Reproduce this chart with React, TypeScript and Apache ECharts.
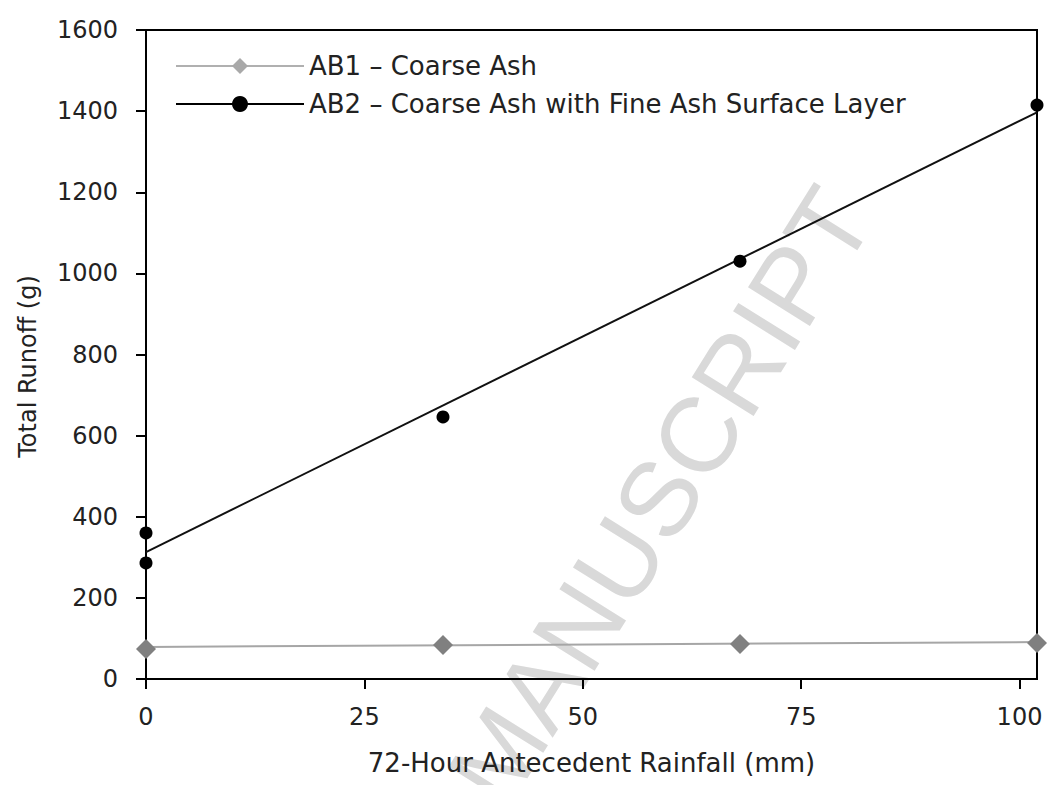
import React, { useEffect, useRef } from "react";
import * as echarts from "echarts";

const xTickLabels = [0, 25, 50, 75, 100];
const yTickLabels = [0, 200, 400, 600, 800, 1000, 1200, 1400, 1600];

const ab1Name = "AB1 \u2013 Coarse Ash";
const ab2Name = "AB2 \u2013 Coarse Ash with Fine Ash Surface Layer";

const ab1X = [0, 34, 68, 102];
const ab1Y = [74, 84, 86, 89];
const ab1TrendX = [0, 102];
const ab1TrendY = [79, 91];

const ab2X = [0, 0, 34, 68, 102];
const ab2Y = [360, 286, 646, 1030, 1415];
const ab2TrendX = [0, 102];
const ab2TrendY = [313, 1397];

const FONT = "DejaVu Sans";

export default function App() {
  const ref = useRef<HTMLDivElement>(null);
  useEffect(() => {
    document.body.style.margin = "0";
    const chart = echarts.init(ref.current!, null, { renderer: "svg" });
    const pairs = (xs: number[], ys: number[]) => xs.map((x, i) => [x, ys[i]]);
    chart.setOption({
      animation: false,
      backgroundColor: "#ffffff",
      textStyle: { fontFamily: FONT },
      grid: {
        left: 146,
        right: 11,
        top: 30,
        bottom: 106,
        show: true,
        borderColor: "#000",
        borderWidth: 2,
        backgroundColor: "transparent",
      },
      graphic: [
        {
          type: "text",
          x: 660,
          y: 496,
          rotation: (58 * Math.PI) / 180,
          z: -10,
          silent: true,
          style: {
            text: "MANUSCRIPT",
            fontFamily: "Liberation Sans",
            fontSize: 106,
            fill: "#d9d9d9",
            align: "center",
            verticalAlign: "middle",
          },
        },
      ],
      legend: {
        left: 170,
        top: 48,
        orient: "vertical",
        itemWidth: 128,
        itemHeight: 20,
        itemGap: 12,
        textStyle: { fontFamily: FONT, fontSize: 26, color: "#222", lineHeight: 26 },
        data: [
          { name: ab1Name, itemStyle: { color: "#a9a9a9" }, lineStyle: { opacity: 1, color: "#b0b0b0", width: 2 } },
          { name: ab2Name, lineStyle: { opacity: 1, color: "#000", width: 2 } },
        ],
      },
      xAxis: {
        type: "value",
        min: 0,
        max: 102,
        interval: 25,
        name: "72-Hour Antecedent Rainfall (mm)",
        nameLocation: "middle",
        nameGap: 71,
        nameTextStyle: { fontFamily: FONT, fontSize: 26, color: "#222" },
        axisLine: { onZero: false, lineStyle: { color: "#000", width: 2 } },
        axisTick: { inside: false, length: 10, lineStyle: { color: "#000", width: 2 } },
        axisLabel: {
          fontFamily: FONT,
          fontSize: 24,
          color: "#222",
          margin: 26,
          showMaxLabel: false,
          formatter: (v: number) => (xTickLabels.includes(v) ? String(v) : ""),
        },
        splitLine: { show: false },
      },
      yAxis: {
        type: "value",
        min: 0,
        max: 1600,
        interval: 200,
        name: "Total Runoff (g)",
        nameLocation: "middle",
        nameGap: 106,
        nameTextStyle: { fontFamily: FONT, fontSize: 24, color: "#222", padding: [0, 24, 0, 0] },
        axisLine: { onZero: false, lineStyle: { color: "#000", width: 2 } },
        axisTick: { inside: false, length: 10, lineStyle: { color: "#000", width: 2 } },
        axisLabel: {
          fontFamily: FONT,
          fontSize: 24,
          color: "#222",
          margin: 28,
          formatter: (v: number) => (yTickLabels.includes(v) ? String(v) : ""),
        },
        splitLine: { show: false },
      },
      series: [
        {
          name: "AB1 trend",
          type: "line",
          data: pairs(ab1TrendX, ab1TrendY),
          symbol: "none",
          silent: true,
          z: 2,
          lineStyle: { color: "#a6a6a6", width: 2 },
        },
        {
          name: "AB2 trend",
          type: "line",
          data: pairs(ab2TrendX, ab2TrendY),
          symbol: "none",
          silent: true,
          z: 2,
          lineStyle: { color: "#111", width: 2 },
        },
        {
          name: ab1Name,
          type: "line",
          data: pairs(ab1X, ab1Y),
          symbol: "diamond",
          symbolSize: [20, 20],
          z: 3,
          itemStyle: { color: "#808080" },
          lineStyle: { color: "#b0b0b0", width: 2, opacity: 0 },
        },
        {
          name: ab2Name,
          type: "line",
          data: pairs(ab2X, ab2Y),
          symbol: "circle",
          symbolSize: 13,
          z: 4,
          itemStyle: { color: "#000" },
          lineStyle: { color: "#000", width: 2, opacity: 0 },
        },
      ],
    });
    return () => chart.dispose();
  }, []);
  return <div ref={ref} style={{ width: 1048, height: 785 }} />;
}
